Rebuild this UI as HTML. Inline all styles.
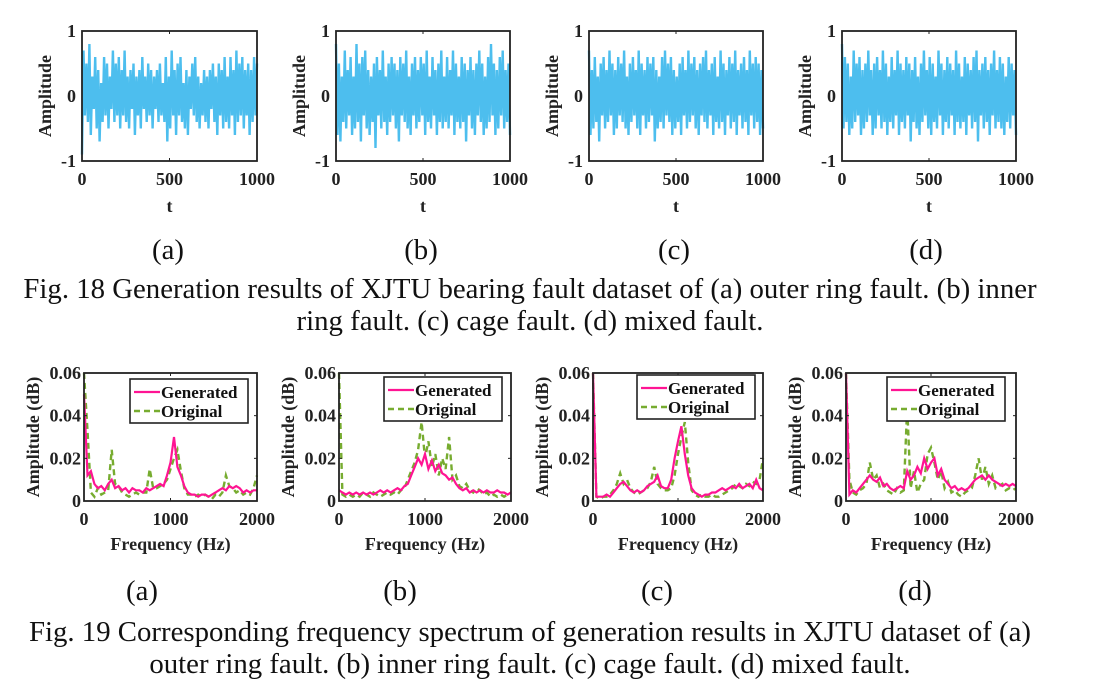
<!DOCTYPE html>
<html><head><meta charset="utf-8">
<style>
html,body{margin:0;padding:0;background:#fff;}
body{width:1101px;height:689px;overflow:hidden;position:relative;}
svg{position:absolute;left:0;top:0;}
.cap{font-family:"Liberation Serif",serif;font-size:28.8px;fill:#111;}
.tk{font-family:"Liberation Serif",serif;font-weight:bold;font-size:18px;fill:#222;}
.lg{font-family:"Liberation Serif",serif;font-weight:bold;font-size:17px;fill:#111;}
</style></head>
<body>
<svg id="fig" width="1101" height="689" viewBox="0 0 1101 689">
<text class="cap" x="168" y="259" text-anchor="middle">(a)</text>
<text class="cap" x="421" y="259" text-anchor="middle">(b)</text>
<text class="cap" x="674" y="259" text-anchor="middle">(c)</text>
<text class="cap" x="926" y="259" text-anchor="middle">(d)</text>
<text class="cap" x="530" y="298" text-anchor="middle">Fig. 18 Generation results of XJTU bearing fault dataset of (a) outer ring fault. (b) inner</text>
<text class="cap" x="530" y="330" text-anchor="middle">ring fault. (c) cage fault. (d) mixed fault.</text>
<text class="cap" x="142" y="600" text-anchor="middle">(a)</text>
<text class="cap" x="400" y="600" text-anchor="middle">(b)</text>
<text class="cap" x="657" y="600" text-anchor="middle">(c)</text>
<text class="cap" x="915" y="600" text-anchor="middle">(d)</text>
<text class="cap" x="530" y="641" text-anchor="middle">Fig. 19 Corresponding frequency spectrum of generation results in XJTU dataset of (a)</text>
<text class="cap" x="530" y="673" text-anchor="middle">outer ring fault. (b) inner ring fault. (c) cage fault. (d) mixed fault.</text>
</svg>
<script>
// waveform data (amplitude samples, evenly spaced over t = 0..1000)
const waveA=[-0.9,0.7,-0.3,0.5,-0.4,0.8,-0.6,0.3,-0.2,0.6,-0.5,0.4,-0.7,0.2,-0.4,0.6,-0.3,0.5,-0.5,0.3,-0.2,0.7,-0.4,0.5,-0.3,0.6,-0.5,0.4,-0.3,0.7,-0.4,0.3,-0.5,0.4,-0.2,0.5,-0.6,0.3,-0.3,0.4,-0.5,0.6,-0.2,0.3,-0.4,0.5,-0.3,0.4,-0.5,0.3,-0.2,0.4,-0.4,0.5,-0.3,0.2,-0.4,0.6,-0.7,0.3,-0.5,0.7,-0.3,0.4,-0.6,0.5,-0.3,0.6,-0.4,0.2,-0.5,0.4,-0.6,0.3,-0.2,0.5,-0.3,0.6,-0.4,0.3,-0.5,0.2,-0.3,0.4,-0.4,0.3,-0.5,0.4,-0.2,0.5,-0.4,0.3,-0.6,0.5,-0.3,0.4,-0.5,0.6,-0.4,0.3,-0.5,0.6,-0.3,0.4,-0.6,0.7,-0.4,0.5,-0.3,0.6,-0.5,0.4,-0.3,0.5,-0.6,0.4,-0.4,0.6,-0.3,0.5];
const waveB=[0.8,-0.6,0.5,-0.7,0.3,-0.4,0.7,-0.5,0.4,-0.3,0.6,-0.6,0.3,-0.5,0.8,-0.4,0.5,-0.7,0.6,-0.3,0.7,-0.5,0.4,-0.6,0.3,-0.4,0.5,-0.8,0.6,-0.3,0.4,-0.5,0.7,-0.4,0.3,-0.6,0.5,-0.4,0.6,-0.3,0.5,-0.5,0.4,-0.7,0.6,-0.3,0.5,-0.4,0.7,-0.5,0.3,-0.6,0.5,-0.3,0.6,-0.5,0.4,-0.4,0.6,-0.3,0.5,-0.6,0.7,-0.4,0.3,-0.5,0.6,-0.3,0.4,-0.6,0.5,-0.4,0.7,-0.5,0.3,-0.4,0.6,-0.5,0.4,-0.3,0.7,-0.6,0.5,-0.4,0.3,-0.5,0.6,-0.4,0.5,-0.7,0.4,-0.3,0.6,-0.5,0.4,-0.6,0.5,-0.3,0.7,-0.4,0.5,-0.6,0.3,-0.5,0.6,-0.4,0.8,-0.3,0.5,-0.6,0.4,-0.5,0.6,-0.3,0.7,-0.5,0.4,-0.4,0.5,-0.6];
const waveC=[0.7,-0.6,0.4,-0.5,0.6,-0.4,0.3,-0.7,0.5,-0.3,0.6,-0.5,0.4,-0.4,0.7,-0.3,0.5,-0.6,0.4,-0.5,0.6,-0.3,0.5,-0.4,0.7,-0.5,0.3,-0.6,0.5,-0.4,0.6,-0.3,0.4,-0.5,0.7,-0.6,0.5,-0.3,0.4,-0.5,0.6,-0.4,0.5,-0.3,0.6,-0.7,0.4,-0.5,0.3,-0.4,0.6,-0.5,0.7,-0.3,0.5,-0.4,0.6,-0.6,0.4,-0.5,0.3,-0.4,0.5,-0.6,0.6,-0.3,0.4,-0.5,0.7,-0.4,0.5,-0.3,0.6,-0.5,0.4,-0.6,0.5,-0.3,0.6,-0.4,0.7,-0.5,0.4,-0.3,0.5,-0.6,0.6,-0.4,0.3,-0.5,0.7,-0.4,0.5,-0.6,0.4,-0.3,0.6,-0.5,0.5,-0.4,0.7,-0.6,0.4,-0.3,0.5,-0.5,0.6,-0.4,0.4,-0.6,0.7,-0.3,0.5,-0.5,0.6,-0.4,0.5,-0.6,0.4,-0.5];
const waveD=[0.8,-0.5,0.6,-0.4,0.5,-0.6,0.3,-0.5,0.7,-0.4,0.5,-0.3,0.6,-0.6,0.4,-0.5,0.5,-0.4,0.7,-0.3,0.4,-0.6,0.5,-0.5,0.6,-0.3,0.4,-0.5,0.7,-0.4,0.5,-0.6,0.3,-0.4,0.6,-0.5,0.4,-0.3,0.7,-0.6,0.5,-0.4,0.4,-0.5,0.6,-0.3,0.5,-0.7,0.4,-0.4,0.6,-0.5,0.3,-0.6,0.5,-0.4,0.7,-0.3,0.4,-0.5,0.6,-0.6,0.5,-0.4,0.3,-0.5,0.7,-0.3,0.5,-0.6,0.4,-0.4,0.6,-0.5,0.5,-0.3,0.4,-0.6,0.7,-0.4,0.5,-0.5,0.3,-0.4,0.6,-0.6,0.5,-0.3,0.4,-0.5,0.6,-0.4,0.7,-0.7,0.4,-0.3,0.5,-0.5,0.6,-0.4,0.4,-0.6,0.5,-0.3,0.7,-0.5,0.4,-0.4,0.6,-0.5,0.5,-0.6,0.3,-0.4,0.6,-0.5,0.5,-0.3,0.4,-0.6];
const waveTicksX=[0,500,1000];
const waveTicksY=[-1,0,1];
// spectrum data: 51 samples, 0..2000 Hz every 40 Hz
const genA=[0.05,0.012,0.014,0.008,0.006,0.007,0.005,0.008,0.01,0.006,0.007,0.005,0.006,0.004,0.006,0.005,0.005,0.004,0.006,0.005,0.006,0.007,0.008,0.007,0.012,0.018,0.03,0.016,0.012,0.007,0.004,0.003,0.003,0.002,0.003,0.003,0.002,0.003,0.004,0.005,0.006,0.005,0.007,0.006,0.007,0.006,0.004,0.005,0.004,0.005,0.005];
const origA=[0.06,0.033,0.004,0.002,0.006,0.003,0.004,0.005,0.024,0.008,0.007,0.004,0.003,0.002,0.003,0.004,0.003,0.004,0.004,0.015,0.006,0.006,0.007,0.008,0.01,0.015,0.02,0.024,0.014,0.006,0.003,0.003,0.002,0.003,0.002,0.003,0.002,0.001,0.003,0.002,0.004,0.012,0.007,0.006,0.004,0.005,0.003,0.004,0.003,0.006,0.012];
const genB=[0.005,0.004,0.003,0.004,0.003,0.004,0.003,0.004,0.003,0.004,0.003,0.004,0.005,0.004,0.005,0.004,0.005,0.006,0.005,0.007,0.008,0.012,0.016,0.02,0.017,0.022,0.015,0.019,0.014,0.017,0.013,0.012,0.01,0.011,0.008,0.006,0.005,0.006,0.004,0.005,0.004,0.005,0.004,0.005,0.004,0.004,0.005,0.004,0.004,0.003,0.004];
const origB=[0.06,0.003,0.002,0.003,0.002,0.003,0.002,0.004,0.003,0.002,0.004,0.003,0.002,0.003,0.004,0.003,0.004,0.003,0.005,0.006,0.01,0.014,0.018,0.024,0.037,0.02,0.028,0.016,0.022,0.012,0.02,0.015,0.03,0.01,0.012,0.007,0.006,0.008,0.005,0.004,0.006,0.005,0.003,0.004,0.002,0.003,0.002,0.003,0.002,0.003,0.004];
const genC=[0.06,0.002,0.002,0.002,0.003,0.002,0.004,0.006,0.008,0.009,0.007,0.005,0.004,0.005,0.004,0.005,0.007,0.008,0.009,0.012,0.007,0.006,0.006,0.01,0.02,0.028,0.035,0.022,0.012,0.006,0.004,0.003,0.002,0.003,0.003,0.004,0.004,0.005,0.006,0.005,0.006,0.007,0.006,0.008,0.006,0.007,0.008,0.006,0.01,0.006,0.005];
const origC=[0.06,0.002,0.001,0.002,0.002,0.003,0.005,0.008,0.013,0.008,0.01,0.006,0.004,0.003,0.004,0.005,0.006,0.009,0.016,0.008,0.006,0.005,0.005,0.006,0.012,0.022,0.03,0.037,0.018,0.005,0.003,0.002,0.003,0.002,0.002,0.003,0.002,0.002,0.003,0.004,0.005,0.006,0.008,0.007,0.006,0.008,0.007,0.009,0.008,0.01,0.02];
const genD=[0.06,0.003,0.005,0.004,0.006,0.008,0.01,0.012,0.01,0.009,0.011,0.007,0.008,0.006,0.005,0.006,0.007,0.006,0.014,0.01,0.012,0.016,0.013,0.02,0.015,0.018,0.02,0.012,0.015,0.01,0.008,0.006,0.007,0.005,0.006,0.005,0.006,0.008,0.01,0.011,0.012,0.01,0.012,0.01,0.009,0.008,0.007,0.008,0.007,0.008,0.007];
const origD=[0.06,0.01,0.004,0.003,0.005,0.006,0.008,0.018,0.01,0.012,0.006,0.008,0.005,0.004,0.003,0.006,0.004,0.005,0.044,0.006,0.014,0.004,0.008,0.01,0.022,0.025,0.018,0.01,0.014,0.006,0.009,0.004,0.005,0.003,0.002,0.004,0.005,0.006,0.012,0.02,0.01,0.016,0.008,0.012,0.006,0.007,0.008,0.005,0.006,0.005,0.006];
const specTicksX=[0,1000,2000];
const specTicksY=[0,0.02,0.04,0.06];
const specTickLabels=["0","0.02","0.04","0.06"];

const NS="http://www.w3.org/2000/svg";
const svg=document.getElementById('fig');
function mk(tag,attrs,parent){const e=document.createElementNS(NS,tag);for(const k in attrs)e.setAttribute(k,attrs[k]);(parent||svg).appendChild(e);return e;}

function drawWave(data,L,R,T,B,id){
  const g=mk('g',{});
  
  
  const xs=v=>L+(v/1000)*(R-L), ys=v=>B-(v+1)/2*(B-T);
  const pts=data.map((v,i)=>xs(i*1000/(data.length-1)).toFixed(1)+','+ys(v).toFixed(1)).join(' ');
  const pl=mk('polyline',{points:pts,fill:'none',stroke:'#4dbeee','stroke-width':2.4,'stroke-linejoin':'bevel'},g);
  
  
  const box=mk('rect',{x:L,y:T,width:R-L,height:B-T,fill:'none',stroke:'#222','stroke-width':1.8},g);
  
  
  waveTicksX.forEach(v=>{
    mk('line',{x1:xs(v),x2:xs(v),y1:B,y2:B-3,stroke:'#222'},g);mk('line',{x1:xs(v),x2:xs(v),y1:T,y2:T+3,stroke:'#222'},g);
    const t=mk('text',{x:xs(v),y:B+24,'text-anchor':'middle',class:'tk'},g);t.textContent=v;
    
    
  });
  waveTicksY.forEach(v=>{
    const t=mk('text',{x:L-6,y:ys(v)+6,'text-anchor':'end',class:'tk'},g);t.textContent=v;
    
    
  });
  const xt=mk('text',{x:(L+R)/2,y:B+51,'text-anchor':'middle',class:'tk','font-size':'21'},g);xt.textContent='t';
  
  
  const yt=mk('text',{x:0,y:0,'text-anchor':'middle',class:'tk','font-size':'20',transform:`translate(${L-31},${(T+B)/2}) rotate(-90)`},g);yt.textContent='Amplitude';
  
  
}
function drawSpec(gen,orig,L,R,T,B,lx,ly,id){
  const g=mk('g',{});
  
  
  const xs=v=>L+(v/2000)*(R-L), ys=v=>B-(v/0.06)*(B-T);
  const path=d=>d.map((v,i)=>xs(i*2000/(d.length-1)).toFixed(1)+','+ys(v).toFixed(1)).join(' ');
  const po=mk('polyline',{points:path(orig),fill:'none',stroke:'#77ac30','stroke-width':2.4,'stroke-dasharray':'6,4'},g);
  
  
  const pg=mk('polyline',{points:path(gen),fill:'none',stroke:'#ff1493','stroke-width':2.2},g);
  
  
  const box=mk('rect',{x:L,y:T,width:R-L,height:B-T,fill:'none',stroke:'#222','stroke-width':1.8},g);
  
  
  specTicksX.forEach(v=>{
    mk('line',{x1:xs(v),x2:xs(v),y1:B,y2:B-3,stroke:'#222'},g);mk('line',{x1:xs(v),x2:xs(v),y1:T,y2:T+3,stroke:'#222'},g);
    const t=mk('text',{x:xs(v),y:B+24,'text-anchor':'middle',class:'tk'},g);t.textContent=v;
    
    
  });
  specTicksY.forEach((v,i)=>{
    mk('line',{x1:L,x2:L+3,y1:ys(v),y2:ys(v),stroke:'#222'},g);mk('line',{x1:R,x2:R-3,y1:ys(v),y2:ys(v),stroke:'#222'},g);
    const t=mk('text',{x:L-3,y:ys(v)+6,'text-anchor':'end',class:'tk'},g);t.textContent=specTickLabels[i];
    
    
  });
  const xt=mk('text',{x:(L+R)/2,y:B+49,'text-anchor':'middle',class:'tk','font-size':'22'},g);xt.textContent='Frequency (Hz)';
  
  
  const yt=mk('text',{x:0,y:0,'text-anchor':'middle',class:'tk','font-size':'21',transform:`translate(${L-45},${(T+B)/2}) rotate(-90)`},g);yt.textContent='Amplitude (dB)';
  
  
  const lg=mk('g',{},g);
  
  
  mk('rect',{x:lx,y:ly,width:118,height:44,fill:'#fff',stroke:'#222','stroke-width':1.6},lg);
  mk('line',{x1:lx+4,x2:lx+30,y1:ly+13,y2:ly+13,stroke:'#ff1493','stroke-width':2.2},lg);
  mk('line',{x1:lx+4,x2:lx+30,y1:ly+32,y2:ly+32,stroke:'#77ac30','stroke-width':2.4,'stroke-dasharray':'6,4'},lg);
  const t1=mk('text',{x:lx+31,y:ly+19,class:'lg'},lg);t1.textContent='Generated';
  
  
  const t2=mk('text',{x:lx+31,y:ly+38,class:'lg'},lg);t2.textContent='Original';
  
  
}
drawWave(waveA,82,257,31,161,'a');
drawWave(waveB,336,510,31,161,'b');
drawWave(waveC,589,763,31,161,'c');
drawWave(waveD,842,1016,31,161,'d');
drawSpec(genA,origA,84,257,373,501,130,379,'a');
drawSpec(genB,origB,339,511,373,501,384,377,'b');
drawSpec(genC,origC,593,763,373,501,637,375,'c');
drawSpec(genD,origD,846,1016,373,501,887,377,'d');
</script>
</body></html>
